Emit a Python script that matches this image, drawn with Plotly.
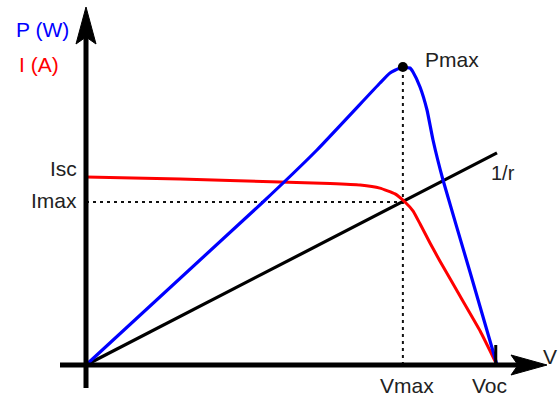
import plotly.graph_objects as go

# ---- data (normalized: V / Voc, current & power in units of Isc) ----
v_iv = [0.0, 0.229, 0.472, 0.594, 0.667, 0.715, 0.752, 0.776, 0.796, 0.813, 0.837, 0.861, 0.910, 0.959, 1.0]
i_iv = [1.0, 0.989, 0.973, 0.965, 0.957, 0.941, 0.910, 0.867, 0.819, 0.750, 0.649, 0.553, 0.367, 0.181, 0.0]

v_pv = [0.0, 0.4307, 0.5620, 0.7153, 0.7397, 0.7640, 0.7883, 0.7956, 0.8127, 0.8297, 0.8443, 0.8686, 0.9343, 1.0]
p_pv = [0.0, 0.8670, 1.1436, 1.5000, 1.5532, 1.5798, 1.5798, 1.5585, 1.4787, 1.3564, 1.1968, 0.9840, 0.4947, 0.0]

v_load = [0.0, 1.0]
i_load = [0.0, 1.128]

v_mp, i_mp, p_mp = 0.771, 0.867, 1.585
v_oc, i_sc = 1.0, 1.0

# ---- pixel <-> data mapping for the 560x400 canvas ----
W, H = 560, 400
X0, Y0, SX, SY = 86, 365, 411.0, 188.0
def dx(px): return (px - X0) / SX
def dy(py): return (Y0 - py) / SY

BLUE, RED, INK = "#0000ff", "#ff0000", "#222222"
FONT = "Liberation Sans, Arial, sans-serif"

fig = go.Figure()

# dotted guides
fig.add_trace(go.Scatter(x=[0, v_mp], y=[i_mp, i_mp], mode="lines",
                         line=dict(color="#111", width=2, dash="3px,4px"), hoverinfo="skip"))
fig.add_trace(go.Scatter(x=[v_mp, v_mp], y=[0, p_mp], mode="lines",
                         line=dict(color="#111", width=2, dash="3px,4px"), hoverinfo="skip"))
# load line
fig.add_trace(go.Scatter(x=v_load, y=i_load, mode="lines", line=dict(color="black", width=3.2)))
# I-V
fig.add_trace(go.Scatter(x=v_iv, y=i_iv, mode="lines",
                         line=dict(color=RED, width=3, shape="spline", smoothing=0.35)))
# P-V
fig.add_trace(go.Scatter(x=v_pv, y=p_pv, mode="lines",
                         line=dict(color=BLUE, width=3.2, shape="spline", smoothing=0.4)))
# Pmax marker
fig.add_trace(go.Scatter(x=[v_mp], y=[p_mp], mode="markers",
                         marker=dict(color="black", size=10)))

shapes = []
# axes
shapes.append(dict(type="line", x0=0, x1=0, y0=dy(388), y1=dy(36), xref="x", yref="y",
                   line=dict(color="black", width=5)))
shapes.append(dict(type="line", x0=dx(60), x1=dx(520), y0=0, y1=0, xref="x", yref="y",
                   line=dict(color="black", width=5)))
# arrowheads
def path(pts):
    return "M " + " L ".join(f"{dx(a)},{dy(b)}" for a, b in pts) + " Z"
shapes.append(dict(type="path", path=path([(86, 7), (96, 44), (86, 37), (76, 44)]),
                   xref="x", yref="y", fillcolor="black", line=dict(color="black", width=1)))
shapes.append(dict(type="path", path=path([(547, 365), (511, 375), (518, 365), (511, 355)]),
                   xref="x", yref="y", fillcolor="black", line=dict(color="black", width=1)))
# Voc tick
shapes.append(dict(type="line", x0=v_oc - 0.003, x1=v_oc - 0.003, y0=0, y1=dy(345), xref="x", yref="y",
                   line=dict(color="black", width=3)))
fig.update_layout(shapes=shapes)

def label(text, px, py, color=INK, size=21, xanchor="center"):
    fig.add_annotation(x=dx(px), y=dy(py), text=text, showarrow=False, xref="x", yref="y",
                       xanchor=xanchor, yanchor="middle",
                       font=dict(family=FONT, size=size, color=color))

label("P (W)", 42, 29, BLUE)
label("I (A)", 39, 64, RED)
label("Isc", 79, 168, xanchor="right")
label("Imax", 79, 200, xanchor="right")
label("Pmax", 452, 59)
label("1/r", 503, 173, size=20)
label("Vmax", 407, 385)
label("Voc", 489, 385)
label("V", 559, 356, xanchor="right")

fig.update_layout(
    width=W, height=H, margin=dict(l=0, r=0, t=0, b=0),
    paper_bgcolor="white", plot_bgcolor="white", showlegend=False,
    xaxis=dict(range=[dx(0), dx(W)], visible=False, fixedrange=True),
    yaxis=dict(range=[dy(H), dy(0)], visible=False, fixedrange=True),
)

fig.write_html("out.html")
